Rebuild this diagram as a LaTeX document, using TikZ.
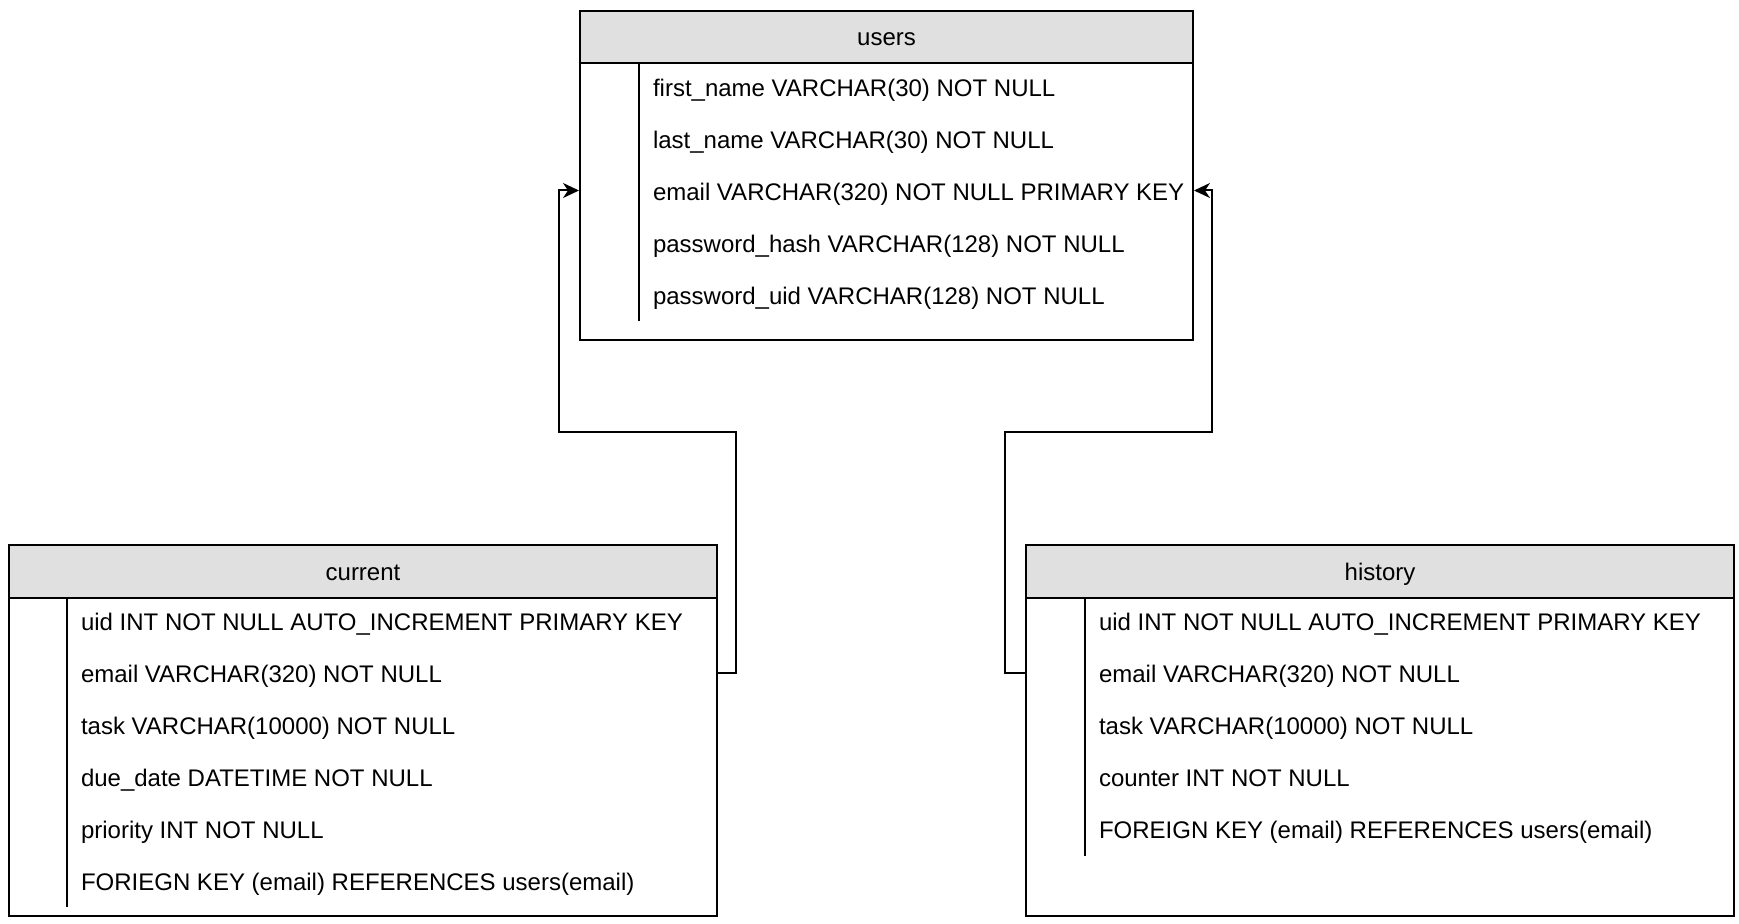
\documentclass[tikz,border=0pt]{standalone}
\usepackage{fontspec}
\setmainfont{Liberation Sans}
\usetikzlibrary{arrows.meta}

\begin{document}
\begin{tikzpicture}[x=0.5pt,y=-0.5pt,line width=1pt,
  font=\fontsize{12}{14}\selectfont,
  tbl/.style={draw,anchor=north west,inner sep=0pt},
  tblhead/.style={draw,fill=colHead,anchor=north west,inner sep=0pt,
    minimum height=26pt,text height=11.5pt,text depth=2.5pt},
  field/.style={anchor=west,inner sep=0pt,text height=12pt,text depth=2.3pt},
  fk/.style={-{Stealth[length=8pt,width=7.5pt,inset=2.5pt]}}]
  \definecolor{colHead}{RGB}{224,224,224}
  \useasboundingbox (0,0) rectangle (1739,924);
  % users
  \node[tbl,minimum width=306.5pt,minimum height=164.5pt] (users) at (579,10) {};
  \node[tblhead,minimum width=306.5pt] (usersHead) at (579,10) {users};
  \draw (639,62) -- (639,321);
  \foreach \i/\txt in {1/first\_name VARCHAR(30) NOT NULL,
                       2/last\_name VARCHAR(30) NOT NULL,
                       3/email VARCHAR(320) NOT NULL PRIMARY KEY,
                       4/password\_hash VARCHAR(128) NOT NULL,
                       5/password\_uid VARCHAR(128) NOT NULL}{
    \node[field] (u\i) at (652,{86.5+52*(\i-1)}) {\txt};
  }
  % current
  \node[tbl,minimum width=354pt,minimum height=185.25pt] (current) at (8,544.5) {};
  \node[tblhead,minimum width=354pt] (currentHead) at (8,544.5) {current};
  \draw (66.5,597) -- (66.5,907);
  \foreach \i/\txt in {1/uid INT NOT NULL AUTO\_INCREMENT PRIMARY KEY,
                       2/email VARCHAR(320) NOT NULL,
                       3/task VARCHAR(10000) NOT NULL,
                       4/due\_date DATETIME NOT NULL,
                       5/priority INT NOT NULL,
                       6/FORIEGN KEY (email) REFERENCES users(email)}{
    \node[field] (c\i) at (80,{621+52*(\i-1)}) {\txt};
  }
  % history
  \node[tbl,minimum width=354pt,minimum height=185.25pt] (history) at (1025,544.5) {};
  \node[tblhead,minimum width=354pt] (historyHead) at (1025,544.5) {history};
  \draw (1085,597) -- (1085,856);
  \foreach \i/\txt in {1/uid INT NOT NULL AUTO\_INCREMENT PRIMARY KEY,
                       2/email VARCHAR(320) NOT NULL,
                       3/task VARCHAR(10000) NOT NULL,
                       4/counter INT NOT NULL,
                       5/FOREIGN KEY (email) REFERENCES users(email)}{
    \node[field] (h\i) at (1098,{621+52*(\i-1)}) {\txt};
  }
  % foreign keys
  \coordinate (cBend) at (736,432.5);
  \coordinate (cTurn) at (559,432.5);
  \coordinate (hBend) at (1005,432.5);
  \coordinate (hTurn) at (1212,432.5);
  \draw[fk] (current.east |- c2) -| (cBend) -- (cTurn) |- (users.west |- u3);
  \draw[fk] (history.west |- h2) -| (hBend) -- (hTurn) |- (users.east |- u3);
\end{tikzpicture}
\end{document}
